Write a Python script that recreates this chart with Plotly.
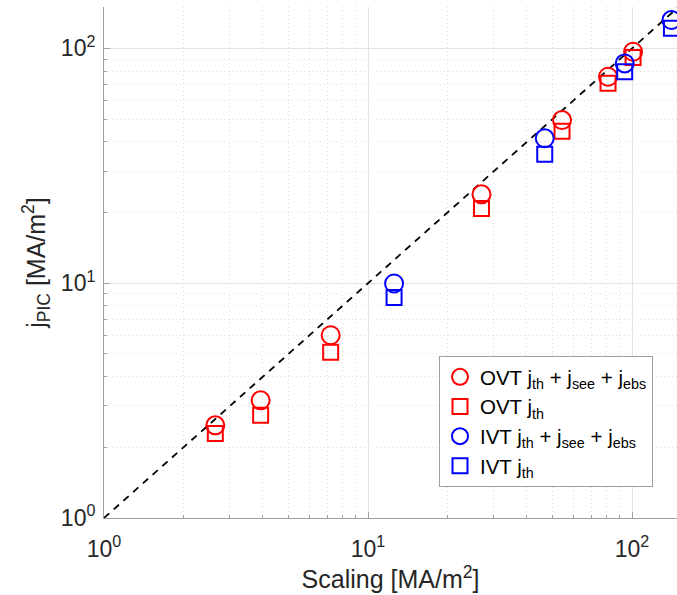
import plotly.graph_objects as go
import math

# ---- data ----
ovt_scaling = [2.64, 3.92, 7.22, 26.9, 54.3, 81.1, 100.9]
ovt_total = [2.48, 3.17, 6.0, 23.9, 49.5, 75.7, 96.7]
ovt_th = [2.29, 2.74, 5.08, 20.8, 44.4, 71.0, 91.5]

ivt_scaling = [12.55, 46.7, 93.8, 141.0]
ivt_total = [9.97, 41.4, 86.3, 132.0]
ivt_th = [8.69, 35.4, 79.5, 121.7]

ref_line = [1, 150]

major_ticks = [1, 10, 100]
major_labels = ["10<sup>0</sup>", "10<sup>1</sup>", "10<sup>2</sup>"]
minor_ticks = [2, 3, 4, 5, 6, 7, 8, 9, 20, 30, 40, 50, 60, 70, 80, 90]

names = [
    "OVT j<sub>th</sub> + j<sub>see</sub> + j<sub>ebs</sub>",
    "OVT j<sub>th</sub>",
    "IVT j<sub>th</sub> + j<sub>see</sub> + j<sub>ebs</sub>",
    "IVT j<sub>th</sub>",
]

RED = "#ff0000"
BLUE = "#0000ff"
FONT = "Liberation Sans, Arial, Helvetica, sans-serif"
TXT = "#262626"

fig = go.Figure()

fig.add_trace(go.Scatter(
    x=ref_line, y=ref_line, mode="lines",
    line=dict(color="black", width=1.8, dash="7px,6px"),
    showlegend=False, hoverinfo="skip"))

def mk(x, y, sym, size, color, name):
    return go.Scatter(
        x=x, y=y, mode="markers", name=name,
        marker=dict(symbol=sym, size=size, color=color,
                    line=dict(color=color, width=2)))

fig.add_trace(mk(ovt_scaling, ovt_total, "circle-open", 18, RED, names[0]))
fig.add_trace(mk(ovt_scaling, ovt_th, "square-open", 15, RED, names[1]))
fig.add_trace(mk(ivt_scaling, ivt_total, "circle-open", 18, BLUE, names[2]))
fig.add_trace(mk(ivt_scaling, ivt_th, "square-open", 15, BLUE, names[3]))

axis_common = dict(
    type="log",
    tickvals=major_ticks, ticktext=major_labels,
    tickfont=dict(family=FONT, size=23, color=TXT),
    showgrid=True, gridcolor="#e3e3e3", gridwidth=1,
    showline=True, linecolor="#a0a0a0", linewidth=1,
    ticks="inside", ticklen=6, tickcolor="#a0a0a0",
    zeroline=False, mirror=False,
    minor=dict(tickvals=minor_ticks, showgrid=True, gridcolor="#dcdcdc",
               griddash="1px,3px", gridwidth=1,
               ticks="inside", ticklen=3, tickcolor="#a0a0a0"),
)

fig.update_layout(
    width=677, height=595,
    margin=dict(l=104, r=0, t=7, b=77),
    paper_bgcolor="white", plot_bgcolor="white",
    font=dict(family=FONT, color=TXT),
    xaxis=dict(axis_common, range=[0, math.log10(148)],
               ticklabelstandoff=10,
               title=dict(text="Scaling [MA/m<sup>2</sup>]",
                          font=dict(family=FONT, size=25, color=TXT),
                          standoff=2)),
    yaxis=dict(axis_common, range=[0, math.log10(150)],
               ticklabelstandoff=3,
               title=dict(text="j<sub>PIC</sub> [MA/m<sup>2</sup>]",
                          font=dict(family=FONT, size=25, color=TXT),
                          standoff=8)),
    legend=dict(
        x=(439 - 104) / 573, y=(518 - 356) / 511,
        xanchor="left", yanchor="top",
        bgcolor="white", bordercolor="#a0a0a0", borderwidth=1,
        font=dict(family=FONT, size=20.5, color="black"),
        tracegroupgap=0,
    ),
)

fig.write_html("out.html")
